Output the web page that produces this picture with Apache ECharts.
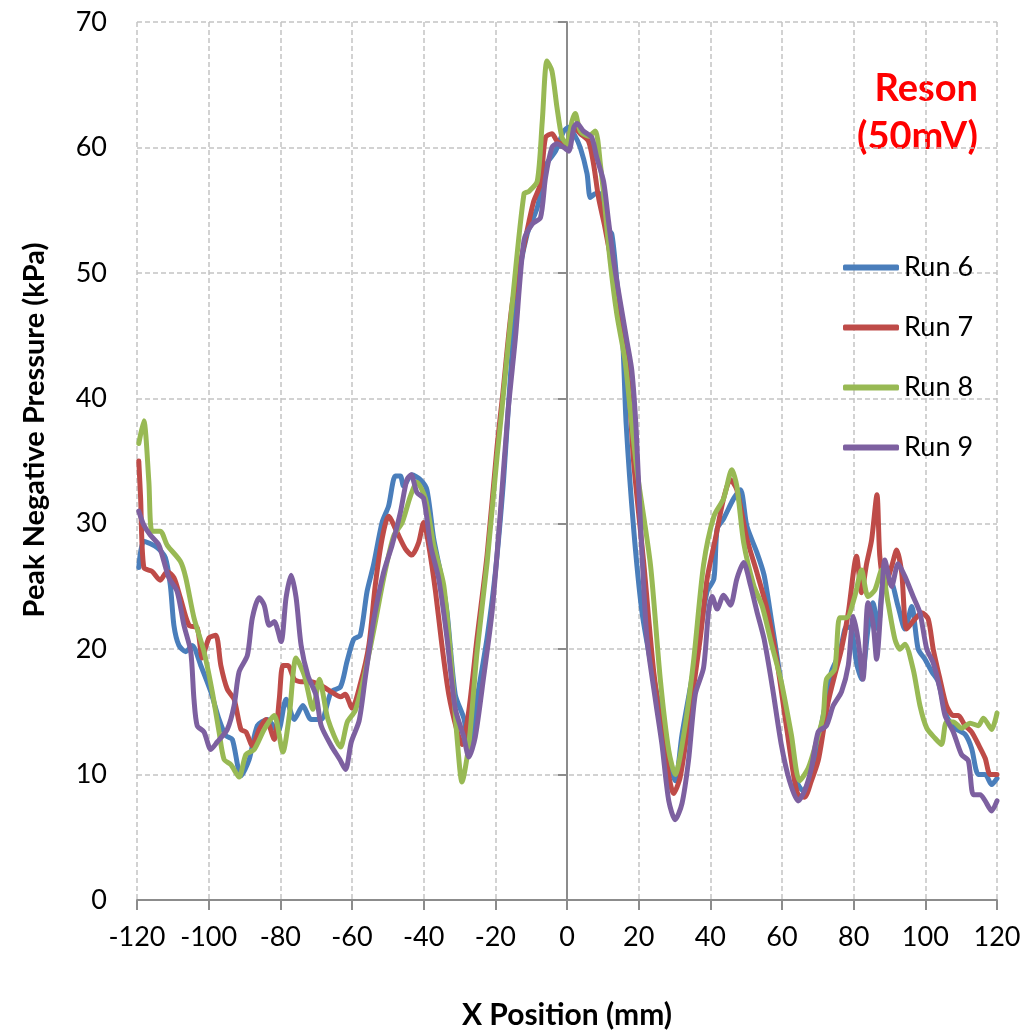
<!DOCTYPE html>
<html>
<head>
<meta charset="utf-8">
<title>Reson 50mV</title>
<script src="https://cdn.jsdelivr.net/npm/echarts@6/dist/echarts.min.js"></script>
<style>
    html, body { margin: 0; padding: 0; background: #fff; }
    #chart { width: 1034px; height: 1035px; }
</style>
</head>
<body>
<div id="chart"></div>
<script>
// 数据：X 位置 (mm) 与峰值负压 (kPa)
var run6 = [
    [-119.5, 26.5], [-118.1, 28.6], [-114.4, 28.1], [-112.1, 27.3], [-110.7, 25.1], [-109.7, 21.9],
    [-108.3, 20.3], [-106.4, 19.8], [-104.6, 20.3], [-102.2, 18.7], [-99.4, 16.6], [-97.1, 14.4],
    [-95.2, 13.1], [-93.4, 12.8], [-91, 9.9], [-88.7, 11.2], [-86.4, 13.9], [-83.6, 14.4],
    [-80.7, 13.4], [-78.4, 16], [-76.1, 14.4], [-73.7, 15.5], [-71.4, 14.4], [-68.6, 14.4],
    [-65.8, 16.6], [-63.2, 17], [-61.4, 19], [-59.5, 20.8], [-57.7, 21.1], [-55.8, 24.6],
    [-54, 26.7], [-51.6, 30.1], [-49.8, 31.4], [-47.9, 33.8], [-46.5, 33.8], [-45.6, 33],
    [-43.3, 33.9], [-40.9, 33.5], [-39.1, 32.7], [-37.2, 28.8], [-35.3, 26.1], [-33.5, 23],
    [-31.2, 16.4], [-28.8, 14.5], [-27.4, 12.4], [-25.1, 16.1], [-22.3, 20.9], [-20, 26.1],
    [-17.7, 33.5], [-16.2, 40], [-13.9, 48.8], [-11.1, 53.1], [-8.3, 55.2], [-5.6, 58.7],
    [-3.2, 59.7], [-0.9, 61.3], [0.5, 61.6], [1.9, 61.1], [3.7, 60], [5.6, 57.9],
    [6.5, 56], [7.9, 56.3], [9.3, 56.3], [11.1, 53.6], [12.5, 53.1], [13.9, 49.4],
    [15.5, 44.8], [16.5, 38], [18.6, 29.6], [20.9, 23], [23.3, 19], [26, 15.1],
    [28.4, 11.1], [30.2, 9.5], [32.1, 13.2], [34.9, 17.7], [37.2, 21.4], [39.1, 24.6],
    [41, 25.6], [41.9, 29.6], [43.7, 30.4], [46.5, 32], [48.4, 32.7], [50.2, 29.8],
    [53, 27.7], [55, 25.9], [57, 22.4], [58.9, 18.9], [61.7, 13.7], [64, 9.5],
    [65.9, 8.7], [68.2, 10], [70.1, 12.6], [71.9, 15.3], [73.8, 18.2], [76.1, 19.7],
    [78, 21.8], [79.4, 21.6], [80.8, 18.9], [82.2, 17.6], [84, 21.6], [85.4, 23.7],
    [86.8, 21.6], [88.2, 25.3], [90.1, 25.5], [92.4, 23.4], [94.3, 21.6], [96.2, 23.4],
    [98, 20], [99.9, 19.2], [101.8, 18.2], [103.6, 17.4], [105.9, 14.7], [108.3, 13.7],
    [111.1, 13.2], [112.9, 12.1], [114.8, 10], [116.7, 10], [118.5, 9.2], [120, 9.7]
];
var run7 = [
    [-119.5, 35], [-119, 32.1], [-118.1, 26.5], [-115.8, 26.2], [-113.5, 25.5], [-111.6, 26.2],
    [-109.7, 25.7], [-107.9, 24.1], [-105.5, 21.9], [-103.2, 21.7], [-101.8, 19.3], [-99.9, 20.9],
    [-98, 21.1], [-96.6, 18.7], [-94.8, 16.8], [-92.9, 16], [-91, 13.6], [-89.6, 13.4],
    [-87.8, 12.3], [-85.9, 13.6], [-84, 14.4], [-81.7, 12.8], [-80.3, 16], [-79.3, 18.7],
    [-77.9, 18.7], [-76.1, 17.6], [-74.2, 17.4], [-71.4, 17.4], [-68.6, 17.1], [-65.8, 16.6],
    [-63.2, 16.2], [-61.9, 16.4], [-60, 15.3], [-57.7, 17.2], [-55.3, 20.3], [-53.5, 25.1],
    [-51.6, 28.8], [-49.8, 30.6], [-47.4, 29.3], [-45.1, 28], [-43.3, 27.5], [-41.4, 28.5],
    [-40, 30.1], [-38.6, 28.3], [-36.7, 24.6], [-34.9, 20.3], [-33, 16.4], [-30.7, 13.5],
    [-29.3, 12.4], [-27.4, 15.1], [-25.1, 20.9], [-22.3, 27.5], [-19.5, 36.2], [-17.9, 40.4],
    [-15.3, 47.5], [-12.5, 51.5], [-10.6, 54.1], [-9.3, 55.7], [-7.4, 57.1], [-6, 60.8],
    [-4.2, 61.1], [-2.8, 60.5], [-1.4, 60.3], [0, 60.3], [1.9, 61.6], [3.7, 61.1],
    [6, 60.5], [7.4, 58.7], [8.8, 56], [10.6, 53.6], [13, 49.9], [15.3, 46.2],
    [17.2, 41.2], [18.6, 34.9], [21.4, 26.9], [24.2, 18.2], [27, 12.4], [29.8, 8.5],
    [31.6, 9.8], [34.4, 15.1], [37.2, 20.9], [39.1, 25.6], [41.4, 28.8], [43.7, 32],
    [45.6, 33.5], [47.4, 32.7], [50.2, 28.8], [53, 26.1], [55.8, 23.2], [58.6, 19],
    [61.4, 13.5], [63.5, 9.5], [64.5, 8.4], [66.3, 8.2], [68.2, 9.5], [70.1, 11.1],
    [71.5, 13.4], [72.9, 15.8], [74.7, 17.9], [76.6, 20], [78.5, 22.9], [80.8, 27.4],
    [82.2, 24.5], [83.6, 26.8], [85, 28.7], [86.5, 32.3], [87.3, 27.4], [88.7, 25],
    [90.6, 26.6], [92, 27.9], [93.4, 26.1], [94.8, 21.6], [97.1, 22.4], [99, 22.9],
    [100.8, 22.4], [102.2, 20], [104.1, 17.6], [105.9, 15.5], [107.8, 14.7], [109.2, 14.7],
    [111.1, 13.9], [112.9, 13.4], [114.8, 12.4], [116.7, 11.3], [118.1, 10], [120, 10]
];
var run8 = [
    [-119.5, 36.4], [-118.1, 38.2], [-116.7, 33.4], [-115.8, 29.4], [-113.5, 29.4], [-111.6, 28.3],
    [-107.9, 27], [-106.4, 25.7], [-104.1, 22.5], [-101.3, 19.8], [-99, 16.6], [-97.1, 13.4],
    [-95.7, 11.2], [-93.8, 10.8], [-91.5, 9.8], [-89.6, 11.6], [-87.3, 12], [-84.5, 13.6],
    [-81.7, 14.7], [-79.3, 11.8], [-77.5, 14.7], [-75.6, 19.3], [-73.3, 17.9], [-70.9, 15.2],
    [-69.1, 17.6], [-66.7, 14.4], [-63.2, 12.2], [-61.3, 14.2], [-59.1, 15.1], [-56.7, 17.7],
    [-54, 21.4], [-51.2, 25.6], [-48.4, 29], [-46, 30.1], [-43.7, 32.2], [-41.9, 33.3],
    [-39.5, 32], [-37.2, 28.3], [-34.4, 25.1], [-32.1, 18.2], [-30.7, 13], [-29.3, 9.4],
    [-27.4, 12.4], [-25.1, 19.8], [-22.3, 26.9], [-19.5, 35.4], [-18.2, 39], [-15.3, 47.5],
    [-12, 56.3], [-10.6, 56.5], [-8.3, 57.3], [-6.9, 62.1], [-5.6, 66.9], [-4.2, 66.1],
    [-2.8, 63.2], [-1.4, 60.8], [0, 60.3], [1.4, 62.1], [2.3, 62.7], [3.7, 61.3],
    [6, 60.9], [7.9, 61.3], [9.3, 58.7], [10.6, 55.2], [12, 51], [13.9, 46.7],
    [16.2, 43], [17.5, 39.5], [19.5, 34.3], [23.3, 26.7], [26, 17.7], [28.4, 11.9],
    [30.2, 10], [32.6, 13.2], [35.3, 19], [38.1, 26.7], [41, 30.6], [43.7, 32],
    [46, 34.3], [47.4, 33], [49.3, 28.5], [52.1, 25.1], [54.5, 23.4], [57, 20.5],
    [59.8, 17.4], [62.6, 13.2], [64.9, 9.5], [67.3, 10.5], [69.6, 12.6], [71.5, 14.7],
    [72.4, 17.6], [74.7, 18.4], [76.1, 22.5], [78, 22.5], [80.3, 24.2], [82.2, 26.3],
    [84, 24.2], [85.9, 24.7], [87.8, 26.3], [89.6, 23.7], [91.5, 20.8], [92.9, 20],
    [94.3, 20.4], [96.6, 18.4], [98.5, 15.5], [100.4, 13.7], [102.7, 12.9], [104.5, 12.4],
    [105.9, 14.2], [107.8, 14.2], [110.1, 13.7], [112.5, 14.1], [114.8, 13.9], [116.2, 14.5],
    [118.5, 13.6], [120, 14.9]
];
var run9 = [
    [-119.5, 31], [-118.1, 29.9], [-116.3, 29.1], [-113.9, 28.3], [-112.5, 27], [-111.1, 25.7],
    [-108.8, 24.6], [-106.9, 21.9], [-105, 19.8], [-104.1, 16], [-103.2, 13.9], [-101.3, 13.4],
    [-99.4, 12], [-97.6, 12.6], [-94.8, 13.6], [-92.9, 15.5], [-91.5, 18.2], [-89.2, 19.5],
    [-87.8, 22.5], [-85.9, 24.1], [-84.5, 23.5], [-83.1, 21.9], [-81.7, 22.2], [-79.8, 20.6],
    [-78.4, 24.1], [-77, 25.9], [-75.6, 24.1], [-74.2, 20.3], [-72.3, 17.9], [-70, 16.3],
    [-68.6, 13.9], [-65.8, 12.3], [-63.4, 11.2], [-61.8, 10.4], [-60.2, 12.6], [-58, 14.3],
    [-56.3, 17.7], [-54, 22.2], [-51.2, 26.1], [-48.8, 28.3], [-46.5, 30.9], [-44.7, 33.5],
    [-43.5, 33.9], [-41.9, 32.5], [-40, 32], [-38.1, 28.3], [-35.8, 25.6], [-33.5, 20.9],
    [-31.2, 15.3], [-28.8, 13], [-27.4, 11.4], [-25.6, 13], [-23.3, 17.7], [-20.9, 23],
    [-18.6, 30.9], [-16.5, 38.8], [-14.4, 44.8], [-12, 52.6], [-9.7, 53.9], [-7.4, 54.4],
    [-6, 57.6], [-4.2, 60], [-2.8, 60.3], [-0.9, 60], [0.5, 59.7], [1.9, 61.6],
    [2.8, 61.9], [4.6, 61.3], [6.9, 60.8], [8.3, 59.2], [10.2, 57.3], [11.6, 54.1],
    [13, 51], [14.8, 47.8], [16.7, 44.6], [18.1, 42.2], [19.3, 37.5], [20.5, 30],
    [22.3, 20.9], [24.7, 15.9], [26.5, 12.4], [28.4, 7.9], [30.2, 6.4], [32.1, 7.7],
    [33.9, 11.1], [35.8, 16.4], [38.1, 18.5], [39.5, 23], [40.5, 24.2], [41.9, 23.2],
    [43.7, 24.3], [45.6, 23.5], [47.4, 25.6], [49.3, 26.9], [51.2, 25.1], [53, 23],
    [55, 20.8], [57.3, 17], [59.8, 12.4], [62.1, 9.5], [64.5, 7.9], [66.3, 8.7],
    [68.2, 10.5], [70.1, 13.4], [72.4, 13.9], [74.3, 15.5], [76.6, 16.6], [78.5, 18.7],
    [79.9, 22.6], [81.2, 20.8], [82.6, 17.6], [84, 23.7], [85.4, 22.1], [86.4, 19.2],
    [87.8, 24.2], [88.7, 27.1], [90.6, 25], [92.4, 26.8], [94.3, 25.8], [96.6, 24.2],
    [98.5, 22.9], [100.4, 20], [102.2, 18.9], [104.1, 16.8], [105.5, 14.7], [107.8, 13.4],
    [110.1, 11.6], [112, 11.1], [113.4, 8.4], [115.3, 8.4], [116.7, 7.9], [118.5, 7.1],
    [120, 7.9]
];
var runNames = ["Run 6", "Run 7", "Run 8", "Run 9"];
var runColors = ["#4a7ebb", "#be4b48", "#98b954", "#7d60a0"];

(function() {
    var myChart = echarts.init(document.getElementById("chart"));
    var font = "Lato, 'Liberation Sans', sans-serif";
    var gridLine = { show: true, lineStyle: { color: "#c4c4c4", width: 1.5, type: [5, 3] } };

    var series = [run6, run7, run8, run9].map(function(d, i) {
        return {
            name: runNames[i],
            type: "line",
            data: d,
            showSymbol: false,
            smooth: 0.25,
            lineStyle: { width: 5, color: runColors[i], cap: "round", join: "round" },
            itemStyle: { color: runColors[i] },
            z: 2 + i
        };
    });

    var option = {
        animation: false,
        backgroundColor: "#fff",
        grid: { left: 137, right: 37, top: 22, bottom: 132 },
        legend: {
            orient: "vertical",
            left: 838,
            top: 249,
            itemWidth: 56,
            itemHeight: 6,
            itemGap: 33,
            icon: "roundRect",
            textStyle: { fontFamily: font, fontSize: 27, color: "#000" },
            data: runNames
        },
        xAxis: {
            type: "value",
            min: -120,
            max: 120,
            interval: 20,
            name: "X Position (mm)",
            nameLocation: "middle",
            nameGap: 100,
            nameTextStyle: { fontFamily: font, fontSize: 30, fontWeight: "bold", color: "#000" },
            axisLine: { onZero: false, lineStyle: { color: "#8c8c8c", width: 2 } },
            axisTick: { show: true, length: 10, lineStyle: { color: "#8c8c8c", width: 2 } },
            axisLabel: { margin: 24, fontFamily: font, fontSize: 27, color: "#000" },
            splitLine: gridLine
        },
        yAxis: [{
            type: "value",
            min: 0,
            max: 70,
            interval: 10,
            axisLine: { show: false, onZero: false },
            axisTick: { show: false },
            axisLabel: { margin: 30, fontFamily: font, fontSize: 27, color: "#000" },
            splitLine: gridLine
        }, {
            // 零点处的纵轴线
            type: "value",
            min: 0,
            max: 70,
            interval: 10,
            position: "left",
            axisLine: { show: true, onZero: true, lineStyle: { color: "#8c8c8c", width: 2 } },
            axisTick: { show: true, length: 9, lineStyle: { color: "#8c8c8c", width: 2 } },
            axisLabel: { show: false },
            splitLine: { show: false }
        }],
        graphic: [{
            type: "text",
            x: 35,
            y: 430,
            rotation: Math.PI / 2,
            style: {
                text: "Peak Negative Pressure (kPa)",
                fontFamily: font,
                fontSize: 29,
                fontWeight: "bold",
                fill: "#000",
                align: "center",
                verticalAlign: "middle"
            }
        }, {
            type: "text",
            right: 56,
            top: 70,
            style: {
                text: "Reson",
                fontFamily: font,
                fontSize: 38,
                fontWeight: "bold",
                fill: "#ff0000"
            }
        }, {
            type: "text",
            right: 56,
            top: 118,
            style: {
                text: "(50mV)",
                fontFamily: font,
                fontSize: 38,
                fontWeight: "bold",
                fill: "#ff0000"
            }
        }],
        series: series
    };
    myChart.setOption(option);
    window.addEventListener("resize", function() {
        myChart.resize();
    });
})();
</script>
</body>
</html>
